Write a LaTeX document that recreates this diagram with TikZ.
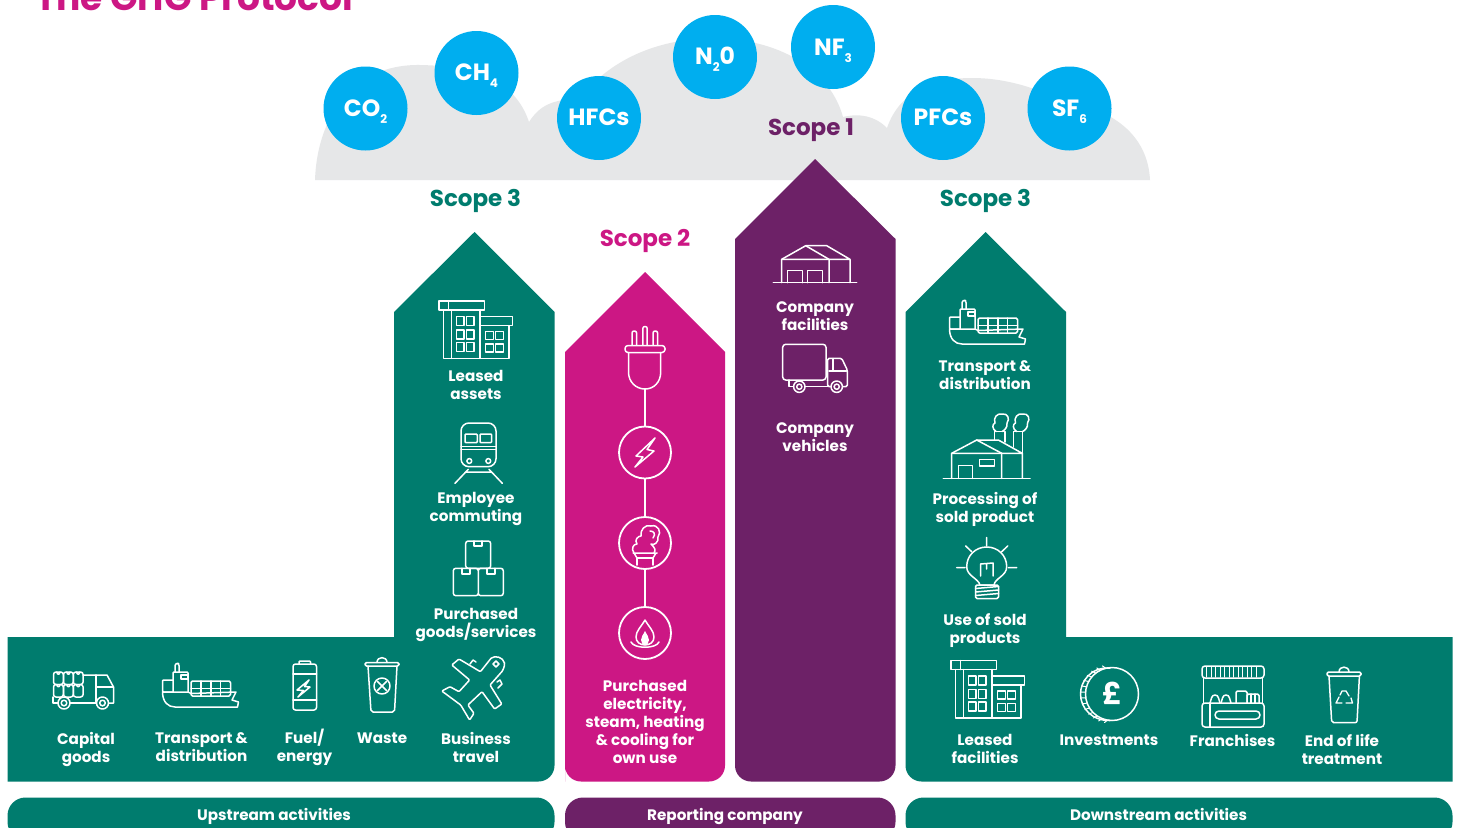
\documentclass[tikz,border=0pt]{standalone}
\usepackage{fontspec}
\usetikzlibrary{calc}
\setmainfont{Poppins}[BoldFont={Poppins Bold}]
\definecolor{ghggreen}{HTML}{007C6E}
\definecolor{ghgpink}{HTML}{CC1784}
\definecolor{ghgpurple}{HTML}{6D2167}
\definecolor{ghgblue}{HTML}{00AEEF}
\definecolor{ghgcloud}{HTML}{E6E7E8}
\newcommand{\gsub}[1]{\raisebox{-0.55ex}{\fontsize{12}{12}\selectfont #1}}
\newcommand{\iconship}{%
  \draw (162.5,693) .. controls (163,702) and (168,707) .. (175,707) -- (237.5,707) -- (238.5,702) -- (232,700) -- (236,692) -- (191,693.5) -- (188,692) -- (162.5,692) -- cycle;
  \draw[rounded corners=1pt] (173,692) -- (162.5,692) -- (162.5,680) -- (173,680);
  \draw[rounded corners=1pt] (173,692) -- (173,672) -- (188,672) -- (188,692);
  \draw[rounded corners=1.5pt] (175,672) -- (175,664) -- (177.5,663) -- (179,664) -- (179,672);
  \draw (181,675) rectangle (188,679);
  \draw[rounded corners=1.5pt] (191,681) rectangle (230.5,696);
  \draw (200.9,681) -- (200.9,696) (210.8,681) -- (210.8,696) (220.6,681) -- (220.6,696) (191,688.5) -- (230.5,688.5);
}
\newcommand{\iconbuilding}{%
  \draw (439,301) rectangle (484.3,310) (448.3,301) -- (448.3,310);
  \draw (443.3,310) -- (443.3,358.3) -- (509,358.3) -- (509,325.7);
  \draw (451.7,310) -- (451.7,358.3) (480,310) -- (480,358.3);
  \draw (480,316.7) rectangle (512.3,325.7);
  \foreach \wx in {456.7,466.7} \foreach \wy in {316.7,330,342.7} \draw (\wx,\wy) rectangle ++(7.4,8.8);
  \foreach \wx in {485.7,495.7} \foreach \wy in {331.7,344} \draw (\wx,\wy) rectangle ++(7.6,8);
}
\begin{document}
\begin{tikzpicture}[x=1pt,y=-1pt,
  lbl/.style={text=white,font=\bfseries\fontsize{15.2}{18}\selectfont,align=center,inner sep=0pt},
  gas/.style={circle,fill=ghgblue,text=white,minimum size=84pt,inner sep=0pt},
  gastext/.style={text=white,inner sep=0pt,font=\bfseries\fontsize{23.5}{23.5}\selectfont},
  scopelbl/.style={font=\bfseries\fontsize{23}{23}\selectfont,inner sep=0pt},
  barlbl/.style={text=white,font=\bfseries\fontsize{15.2}{15}\selectfont,inner sep=0pt},
  icon/.style={draw=white,line width=1.5pt,line join=round,line cap=round},
  ring/.style={circle,draw=white,line width=1.8pt,minimum size=52pt,inner sep=0pt}]
\useasboundingbox (0,0) rectangle (1461,827);
\clip (0,0) rectangle (1461,827);
\fill[white] (0,0) rectangle (1461,827);

% title
\node[anchor=base west,text=ghgpink,inner sep=0pt,font=\bfseries\fontsize{36}{36}\selectfont] (title) at (35,10) {The GHG Protocol};

% cloud
\fill[ghgcloud] (315,180) .. controls (317,120) and (350,64) .. (420,65)
  .. controls (475,66) and (515,80) .. (529,122)
  .. controls (540,105) and (552,100) .. (580,98)
  .. controls (610,60) and (655,40) .. (710,38)
  .. controls (780,38) and (830,70) .. (843,117)
  .. controls (860,113) and (875,116) .. (887,128)
  .. controls (900,90) and (935,78) .. (972,78)
  .. controls (1000,78) and (1030,85) .. (1060,100)
  .. controls (1120,110) and (1148,140) .. (1150,180) -- cycle;

% gases
\node[gas] (co2) at (365.5,108.5) {};
\node[gas] (ch4) at (476.5,73) {};
\node[gas] (hfc) at (599,118) {};
\node[gas] (n2o) at (715,57) {};
\node[gas] (nf3) at (833,47) {};
\node[gas] (pfc) at (943,118) {};
\node[gas] (sf6) at (1069.5,108.5) {};
\node[gastext,anchor=base] (co2t) at (365.5,116) {CO\gsub{2}};
\node[gastext,anchor=base] (ch4t) at (476.5,80) {CH\gsub{4}};
\node[gastext,anchor=base] (hfct) at (599,125) {HFCs};
\node[gastext,anchor=base] (n2ot) at (715,64) {N\gsub{2}0};
\node[gastext,anchor=base] (nf3t) at (833,55) {NF\gsub{3}};
\node[gastext,anchor=base] (pfct) at (943,125) {PFCs};
\node[gastext,anchor=base] (sf6t) at (1069.5,116) {SF\gsub{6}};

% scope labels
\node[scopelbl,text=ghgpurple,anchor=base] (s1) at (811,135) {Scope 1};
\node[scopelbl,text=ghggreen,anchor=base] (s3a) at (475.5,206) {Scope 3};
\node[scopelbl,text=ghggreen,anchor=base] (s3b) at (985.5,206) {Scope 3};
\node[scopelbl,text=ghgpink,anchor=base] (s2) at (645,246) {Scope 2};

% main shapes
\fill[ghggreen] (7.5,781.5) -- (7.5,637) -- (394,637) -- (394,312) -- (474.5,232) -- (554.5,312)
  [rounded corners=16pt] -- (554.5,781.5) [sharp corners] -- cycle;
\fill[ghgpink,rounded corners=16pt] (565,781.5) [sharp corners] -- (565,352) -- (645,272) -- (725,352) [rounded corners=16pt] -- (725,781.5) -- (565,781.5) -- (565,600);
\fill[ghgpurple,rounded corners=16pt] (735,600) [sharp corners] -- (735,239) -- (815,159) -- (895.5,239) [rounded corners=16pt] -- (895.5,781.5) -- (735,781.5) -- (735,600);
\fill[ghggreen] (1452.5,781.5) -- (1452.5,637) -- (1066,637) -- (1066,312) -- (985.5,232) -- (905.5,312)
  [rounded corners=16pt] -- (905.5,781.5) [sharp corners] -- cycle;

% bars
\fill[ghggreen,rounded corners=18pt] (7.5,840) -- (7.5,797.5) -- (554.5,797.5) -- (554.5,840) -- cycle;
\fill[ghgpurple,rounded corners=18pt] (565,840) -- (565,797.5) -- (895.5,797.5) -- (895.5,840) -- cycle;
\fill[ghggreen,rounded corners=18pt] (905.5,840) -- (905.5,797.5) -- (1452.5,797.5) -- (1452.5,840) -- cycle;
\node[barlbl,anchor=base] (up) at (274,820) {Upstream activities};
\node[barlbl,anchor=base] (rep) at (725,820) {Reporting company};
\node[barlbl,anchor=base] (down) at (1158.5,820) {Downstream activities};

% labels
\node[lbl] (l1) at (86,749) {Capital\\goods};
\node[lbl] (l2) at (201.5,747) {Transport \&\\distribution};
\node[lbl] (l3) at (304.5,747) {Fuel/\\energy};
\node[lbl] (l4) at (382,738) {Waste};
\node[lbl] (l5) at (476,747) {Business\\travel};
\node[lbl] (l6) at (476,385) {Leased\\assets};
\node[lbl] (l7) at (476,509) {Employee\\commuting};
\node[lbl] (l8) at (476,625) {Purchased\\goods/services};
\node[lbl] (l9) at (645,721.5) {Purchased\\electricity,\\steam, heating\\\& cooling for\\own use};
\node[lbl] (l10) at (815,316) {Company\\facilities};
\node[lbl] (l11) at (815,437) {Company\\vehicles};
\node[lbl] (l12) at (985,375) {Transport \&\\distribution};
\node[lbl] (l13) at (985,509) {Processing of\\sold product};
\node[lbl] (l14) at (985,631) {Use of sold\\products};
\node[lbl] (l15) at (985,749) {Leased\\facilities};
\node[lbl] (l16) at (1109,740) {Investments};
\node[lbl] (l17) at (1232.5,740) {Franchises};
\node[lbl] (l18) at (1342,749) {End of life\\treatment};

% scope 2 chain
\node[ring] (bolt) at (645,452.5) {};
\node[ring] (steam) at (645,543) {};
\node[ring] (flame) at (645,633) {};
\coordinate (plugend) at (645,389);
\draw[white,line width=1.8pt] (plugend) -- (bolt) (bolt) -- (steam) (steam) -- (flame);

\begin{scope}[icon]
% plug
\draw[rounded corners=2pt] (632,345) -- (632,331) -- (636.6,331) -- (636.6,345);
\draw[rounded corners=2pt] (642.8,345) -- (642.8,326.5) -- (647.2,326.5) -- (647.2,345);
\draw[rounded corners=2pt] (653,345) -- (653,331) -- (657.6,331) -- (657.6,345);
\draw[rounded corners=3pt] (625,345.5) rectangle (665,352.5);
\draw (628.5,352.5) -- (628.5,372) .. controls (628.5,382) and (636,389) .. (645,389) .. controls (654,389) and (660.7,382) .. (660.7,372) -- (660.7,352.5);
% bolt in circle
\draw (655,438) -- (636,456) -- (643,457) -- (635,467) -- (654,451) -- (647,449.5) -- cycle;
% steam
\draw (637,565) -- (637,558) -- (653,558) -- (653,565);
\draw (633,553) -- (657,553) (634,553) -- (637,558) (656,553) -- (653,558);
\draw (634,553) .. controls (631,549) and (633,544) .. (637,544) .. controls (634,540) and (638,536) .. (641,536) .. controls (640,530) and (645,524) .. (651,526) .. controls (658,524) and (662,532) .. (658,537) .. controls (659,542) and (654,546) .. (651,544) .. controls (655,548) and (656,550) .. (654,553);
\draw (650,531) .. controls (654,531) and (656,534) .. (653,538);
% flame
\draw (645,620) .. controls (641,627) and (636,631) .. (636,637) .. controls (636,642) and (640,645) .. (645,645) .. controls (650,645) and (654,642) .. (654,637) .. controls (654,631) and (649,627) .. (645,620) -- cycle;
\fill[white] (645,631) .. controls (643,635) and (641,637) .. (641,640) .. controls (641,643) and (643,645) .. (645,645) .. controls (647,645) and (649,643) .. (649,640) .. controls (649,637) and (647,635) .. (645,631) -- cycle;
\draw (631,642) .. controls (634,649) and (656,649) .. (659,642);

% truck
\foreach \px in {53.5,63.5,73.3} \foreach \py in {672,684.5} {
  \draw[rounded corners=2.5pt] (\px,\py) rectangle ++(9.8,12.5);
  \draw (\px+3.3,\py) .. controls (\px+3.5,\py+3) and (\px+6.3,\py+3) .. (\px+6.5,\py);
}
\draw (83,675) -- (107,675) -- (113.5,687) -- (113.5,703) -- (108.5,703);
\draw (96,675) -- (96,703) (96.5,703) -- (70,703) (58,703) -- (53,703) -- (53,697);
\draw (96,687) -- (113.5,687);
\foreach \wx in {64,102.5} { \draw (\wx,703) circle[radius=6]; \draw (\wx,703) circle[radius=2.8]; }

% ships
\iconship
\begin{scope}[shift={(787,-363)}] \iconship \end{scope}

% battery
\draw[rounded corners=2.5pt] (293,664) rectangle (316.5,710);
\draw[rounded corners=1pt] (299,664) -- (299,661) -- (310.5,661) -- (310.5,664);
\draw (293,674) -- (316.5,674) (293,700) -- (316.5,700);
\draw (309,680) -- (297,690) -- (303.5,690.5) -- (298,697) -- (310,687) -- (304.5,686.5) -- cycle;

% waste bin
\draw[rounded corners=1.5pt] (365,662.5) rectangle (399,666);
\draw (377,662.5) .. controls (377,656) and (387,656) .. (387,662.5);
\draw[rounded corners=2pt] (368,666) -- (371,712) -- (394.5,712) -- (397,666);
\draw (382,686) circle[radius=8];
\draw (377.5,681.5) -- (386.5,690.5) (386.5,681.5) -- (377.5,690.5);

% plane
\draw[rounded corners=1pt] (491,658.3) -- (480.4,671.7) -- (459,659) -- (451.8,665) -- (469.6,680) -- (459,691.7) -- (450,686.7) -- (441.8,691) -- (460.7,705) -- (469.6,720) -- (474,713.3) -- (467.9,705) -- (482,691.7) -- (494.6,709) -- (501.8,704) -- (490,685) -- (501.8,671.7);
\draw (491,658.3) .. controls (495,655) and (503,657) .. (504.5,663) .. controls (505,666) and (503,670) .. (501.8,671.7);
\draw (470,664) -- (473,660) -- (476,662) (497,682) -- (500,680) -- (502,684) -- (498,688);
\draw (493,664) -- (496,661) -- (499,664) -- (496,667) -- cycle;

% buildings
\iconbuilding
\begin{scope}[shift={(512,359.5)}] \iconbuilding \end{scope}

% train
\draw[rounded corners=8pt] (461,466.7) -- (461,423) -- (496,423) -- (496,466.7) -- cycle;
\draw[rounded corners=1pt] (465,434) rectangle (477.3,442.7) (480,434) rectangle (491.7,442.7);
\draw (461,446.5) -- (496,446.5) (461,449.5) -- (496,449.5);
\draw (469.3,461) circle[radius=2.4] (488.3,461) circle[radius=2.4];
\draw (468.3,469.3) -- (455,483.3) (489,469.3) -- (502.3,483.3) (466,472) -- (491,472);

% boxes
\draw[rounded corners=2.5pt] (465.7,541) rectangle (490.7,568.3);
\draw (474,541) -- (474,546) -- (482,546) -- (482,541);
\draw[rounded corners=2.5pt] (453.3,568.3) rectangle (478.3,595.7) (478.3,568.3) rectangle (503.3,595.7);
\draw (462,568.3) -- (462,574) -- (470,574) -- (470,568.3) (487,568.3) -- (487,574) -- (495,574) -- (495,568.3);

% warehouse
\draw (773.3,282.7) -- (856.7,282.7);
\draw (781.7,282.7) -- (781.7,259.3) -- (805.7,245.7) -- (829,259.3) -- (829,282.7);
\draw (805.7,245.7) -- (826.7,245.7) -- (850,259.3) -- (850,282.7) (781.7,259.3) -- (850,259.3);
\draw (787.7,282.7) -- (787.7,270.7) -- (802.3,270.7) -- (802.3,282.7) (807.7,282.7) -- (807.7,270.7) -- (822.7,270.7) -- (822.7,282.7);

% van
\draw[rounded corners=3pt] (782.7,344.3) rectangle (826,380);
\draw[rounded corners=1.5pt] (830,386.7) -- (827.7,386.7) -- (827.7,358.3) -- (841.7,358.3) -- (847.3,370) -- (847.3,386.7) -- (843,386.7);
\draw (829,371) -- (846.5,371) (833,358.5) -- (833,371);
\draw (789,380) -- (789,386.7) -- (793.5,386.7) (805,386.7) -- (830,386.7);
\foreach \wx in {799.3,836.7} { \draw (\wx,386.7) circle[radius=5.7]; \draw (\wx,386.7) circle[radius=2.6]; }

% factory
\draw (943.3,478.3) -- (1030,478.3);
\draw (951.7,478.3) -- (951.7,453.3) -- (976.7,440) -- (1001.7,453.3) -- (1001.7,478.3);
\draw (976.7,440) -- (998.3,440) -- (1022.3,453.3) -- (1022.3,478.3) (951.7,453.3) -- (1022.3,453.3);
\draw (958.3,478.3) -- (958.3,465.7) -- (972.7,465.7) -- (972.7,478.3);
\draw (979.3,459.3) rectangle (994.3,466);
\draw (994.3,440) -- (994.3,431.7) -- (1005,431.7) -- (1005,442);
\draw (1013.3,447) -- (1013.3,431.7) -- (1022.3,431.7) -- (1022.3,453);
\foreach \sx in {1001,1021.5} {
  \draw (\sx-5,431.5) .. controls (\sx-9,429) and (\sx-9,424) .. (\sx-6,423) .. controls (\sx-8,418) and (\sx-4,413) .. (\sx+1,414) .. controls (\sx+7,413) and (\sx+9,419) .. (\sx+6,423) .. controls (\sx+7,427) and (\sx+3,431) .. (\sx+1,431.5);
}

% bulb
\draw (980,585) .. controls (978,578) and (966.7,576) .. (966.7,566.7) .. controls (966.7,555.5) and (975.5,547) .. (986.7,547) .. controls (998,547) and (1006.7,555.5) .. (1006.7,566.7) .. controls (1006.7,576) and (995,578) .. (994,585) -- cycle;
\draw[rounded corners=1.5pt] (975.5,585) rectangle (998.5,598.5);
\draw (975.5,588.5) -- (998.5,586.5) (975.5,592) -- (998.5,590) (975.5,595.5) -- (998.5,593.5);
\draw (986.7,537.5) -- (986.7,546) (965.7,546) -- (971.7,551.7) (1007.7,546) -- (1001.7,551.7) (956.7,567.7) -- (965,567.7) (1008.3,567.7) -- (1016.7,567.7);
\draw (980.5,576) -- (980.5,564) -- (986.7,563.5) -- (986.7,569) (986.7,563.5) -- (993,563) -- (993,576);

% coin
\draw (1112,694) circle[radius=26.5];
\draw (1110,668) .. controls (1090,667) and (1080.5,682) .. (1080.5,694) .. controls (1080.5,708) and (1092,721) .. (1110,720.5);
\foreach \ang in {100,112,...,260} \draw[line width=1pt] ($(1112,694)+(\ang:26.5)$) -- ($(1109.5,694)+(\ang:29)$);
\node[inner sep=0pt,text=white,font=\bfseries\fontsize{30}{30}\selectfont] (pound) at (1112,693) {£};

% franchise
\draw[rounded corners=3pt] (1202,666) rectangle (1264,678);
\foreach \sx in {1206.5,1211,...,1260} \draw[line width=1pt] (\sx,667) -- (\sx,677);
\draw (1203.5,678) -- (1203.5,703) (1262.5,678) -- (1262.5,703);
\draw[rounded corners=3pt] (1202,703) rectangle (1264,727);
\draw (1210,703) -- (1210,727);
\draw[rounded corners=4pt] (1215,711) rectangle (1260,719);
\foreach \sx in {1215,1226} \draw (\sx-5,703) -- (\sx-3.5,698) .. controls (\sx-3,694) and (\sx+3,694) .. (\sx+3.5,698) -- (\sx+5,703);
\draw[rounded corners=1.5pt] (1236,703) -- (1236,691) -- (1247,691) -- (1247,703);
\draw[rounded corners=1.5pt] (1247,703) -- (1247,694) -- (1259,694) -- (1259,703);
\draw (1251,694) -- (1251,703) (1255,694) -- (1255,703);

% recycle bin
\draw[rounded corners=1.5pt] (1327,672) rectangle (1361,676);
\draw (1339,672) .. controls (1339,665.5) and (1349,665.5) .. (1349,672);
\draw[rounded corners=2pt] (1329,676) -- (1331.7,722.7) -- (1357,722.7) -- (1359.4,676);
\draw[line width=1.3pt] (1342,691) -- (1346,691) -- (1349,696) (1351,698) -- (1352.5,703) -- (1346,703) (1342,703) -- (1336,703) -- (1339,697) (1340,695) -- (1342,691);
\end{scope}
\end{tikzpicture}
\end{document}
